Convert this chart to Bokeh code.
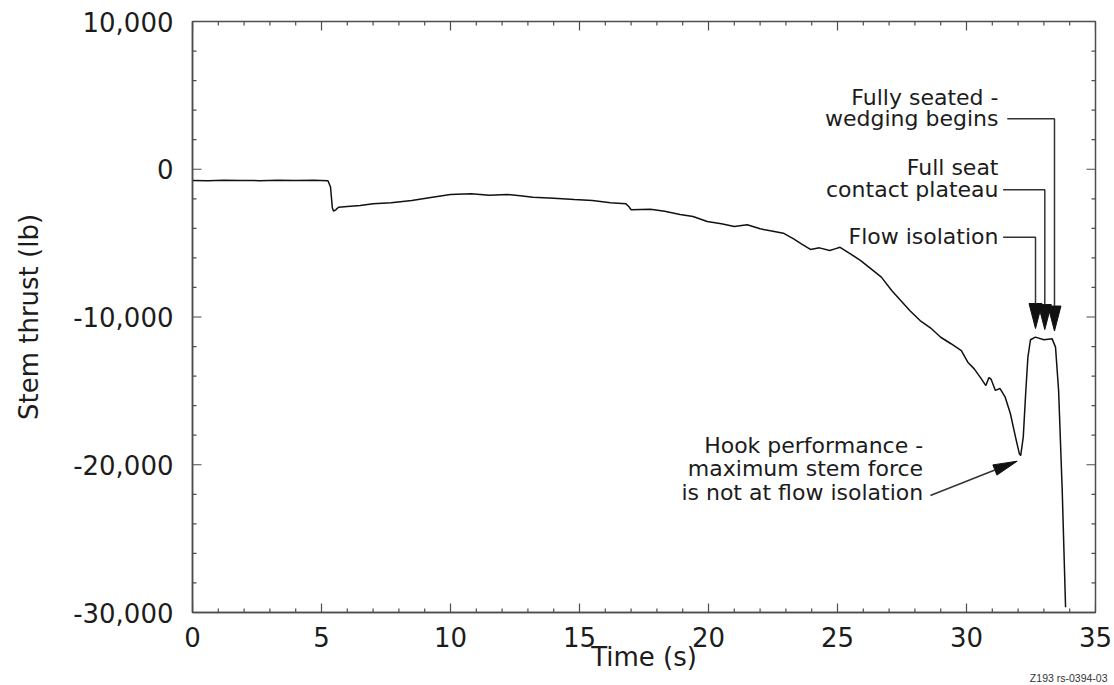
import math

from bokeh.plotting import figure
from bokeh.models import SingleIntervalTicker, NumeralTickFormatter, Label, Range1d, Title
from bokeh.embed import file_html
from bokeh.resources import INLINE

# Valve stem thrust trace during closure
time_s = [0.0, 0.6, 1.2, 1.9, 2.6, 3.3, 4.0, 4.7, 5.25, 5.35, 5.42, 5.47, 5.55, 5.66,
          6.0, 6.5, 7.0, 7.7, 8.5, 9.3, 10.0, 10.8, 11.5, 12.2, 12.7, 13.2, 14.0, 14.8,
          15.5, 16.2, 16.8, 16.9, 17.0, 17.75, 18.3, 18.9, 19.4, 19.95, 20.5, 21.0,
          21.5, 22.0, 22.5, 22.9, 23.3, 23.6, 23.95, 24.3, 24.7, 24.9, 25.1, 25.5,
          25.9, 26.3, 26.7, 27.1, 27.45, 27.8, 28.2, 28.6, 29.0, 29.4, 29.8, 30.05,
          30.3, 30.55, 30.75, 30.87, 30.95, 31.12, 31.3, 31.5, 31.7, 31.9, 32.05,
          32.1, 32.2, 32.3, 32.38, 32.48, 32.67, 33.0, 33.32, 33.45, 33.57, 33.71,
          33.84]
thrust_lb = [-760, -770, -750, -760, -770, -750, -760, -740, -780, -1200, -2600, -2840,
             -2750, -2570, -2520, -2450, -2340, -2270, -2115, -1890, -1710, -1665, -1760,
             -1710, -1800, -1890, -1960, -2050, -2115, -2270, -2340, -2500, -2745, -2700,
             -2840, -3060, -3200, -3540, -3690, -3875, -3760, -4030, -4190, -4325, -4710,
             -5050, -5430, -5320, -5500, -5390, -5280, -5720, -6180, -6740, -7300, -8210,
             -8880, -9560, -10240, -10730, -11370, -11810, -12270, -13060, -13510, -14120,
             -14640, -14100, -14200, -14970, -14840, -15430, -16530, -18130, -19260,
             -19380, -18130, -14970, -12720, -11540, -11360, -11540, -11480, -12040,
             -14970, -21740, -29640]

x_tick_step = 5
y_tick_step = 10000
minor_per_major = 5

FONT = "DejaVu Sans"
INK = "#1c1c1c"
AXIS = "#4d4d4d"

X0, X1 = 0, 35
Y0, Y1 = -30000, 10000
FW, FH = 903, 591

p = figure(frame_width=FW, frame_height=FH,
           x_range=Range1d(X0, X1), y_range=Range1d(Y0, Y1),
           output_backend="svg", toolbar_location=None,
           min_border_left=192, min_border_right=19,
           min_border_top=21, min_border_bottom=73,
           x_axis_label="Time (s)", y_axis_label="Stem thrust (lb)")
p.background_fill_color = "white"
p.border_fill_color = "white"
p.outline_line_color = AXIS
p.outline_line_width = 1.5
p.xgrid.visible = False
p.ygrid.visible = False

for ax, step in ((p.xaxis[0], x_tick_step), (p.yaxis[0], y_tick_step)):
    ax.ticker = SingleIntervalTicker(interval=step, num_minor_ticks=minor_per_major)
    ax.major_tick_in = 0
    ax.major_tick_out = 0
    ax.minor_tick_in = 0
    ax.minor_tick_out = 0
    ax.axis_line_color = AXIS
    ax.axis_line_width = 1.5
    ax.major_label_text_font = FONT
    ax.major_label_text_font_size = "26px"
    ax.major_label_text_color = INK
    ax.axis_label_text_font = FONT
    ax.axis_label_text_font_size = "26px"
    ax.axis_label_text_font_style = "normal"
    ax.axis_label_text_color = INK

p.yaxis[0].formatter = NumeralTickFormatter(format="0,0")
p.xaxis[0].major_label_standoff = 14
p.xaxis[0].axis_label_standoff = -8
p.yaxis[0].major_label_standoff = 19
p.yaxis[0].axis_label_standoff = 26

# pixel <-> data scale
SX = FW / (X1 - X0)
SY = FH / (Y1 - Y0)

# inward ticks on all four sides of the frame
MAJOR_LEN, MINOR_LEN = 9, 4
x_minor_step = x_tick_step / minor_per_major
y_minor_step = y_tick_step / minor_per_major
n_x = int(round((X1 - X0) / x_minor_step))
n_y = int(round((Y1 - Y0) / y_minor_step))
x_ticks = [X0 + i * x_minor_step for i in range(n_x + 1)]
y_ticks = [Y0 + i * y_minor_step for i in range(n_y + 1)]

sx0, sy0, sx1, sy1 = [], [], [], []
for i, t in enumerate(x_ticks):
    ln = (MAJOR_LEN if i % minor_per_major == 0 else MINOR_LEN) / SY
    sx0 += [t, t]; sx1 += [t, t]
    sy0 += [Y0, Y1]; sy1 += [Y0 + ln, Y1 - ln]
for i, v in enumerate(y_ticks):
    ln = (MAJOR_LEN if i % minor_per_major == 0 else MINOR_LEN) / SX
    sy0 += [v, v]; sy1 += [v, v]
    sx0 += [X0, X1]; sx1 += [X0 + ln, X1 - ln]
p.segment(sx0, sy0, sx1, sy1, line_color=AXIS, line_width=1.2)

p.line(time_s, thrust_lb, line_color="#111111", line_width=1.5)


def head(x_tip, y_tip, ux, uy, length, width):
    """Solid triangular arrowhead; (ux, uy) is the pixel-space unit direction."""
    tx, ty = x_tip * SX, y_tip * SY
    bx, by = tx - ux * length, ty - uy * length
    nx, ny = -uy, ux
    xs = [tx, bx + nx * width / 2, bx - nx * width / 2]
    ys = [ty, by + ny * width / 2, by - ny * width / 2]
    p.patch([v / SX for v in xs], [v / SY for v in ys],
            fill_color="#111111", line_color="#111111", line_width=1)
    return bx / SX, by / SY


def elbow_arrow(x_start, y_level, x_arrow, y_tip):
    hx, hy = head(x_arrow, y_tip, 0.0, -1.0, 25, 13)
    p.line([x_start, x_arrow, x_arrow], [y_level, y_level, hy],
           line_color="#333333", line_width=1.5)


def text_line(x, y, s):
    p.add_layout(Label(x=x, y=y, text=s, text_font=FONT, text_font_size="22px",
                       text_color=INK, text_align="right", text_baseline="middle"))


# seating annotations
text_line(31.24, 4876, "Fully seated -")
text_line(31.24, 3415, "wedging begins")
text_line(31.24, 139, "Full seat")
text_line(31.24, -1391, "contact plateau")
text_line(31.24, -4551, "Flow isolation")

elbow_arrow(31.58, 3415, 33.41, -10950)
elbow_arrow(31.42, -1391, 33.035, -10850)
elbow_arrow(31.42, -4600, 32.675, -10780)

# hook annotation
text_line(28.32, -18697, "Hook performance -")
text_line(28.32, -20273, "maximum stem force")
text_line(28.32, -21857, "is not at flow isolation")

tail_x, tail_y = 28.60, -22081
tip_x, tip_y = 31.965, -19759
dx, dy = (tip_x - tail_x) * SX, (tip_y - tail_y) * SY
L = math.hypot(dx, dy)
hx, hy = head(tip_x, tip_y, dx / L, dy / L, 24, 11)
p.line([tail_x, hx], [tail_y, hy], line_color="#333333", line_width=1.5)

p.add_layout(Title(text="Z193 rs-0394-03", align="right", text_font="Liberation Sans",
                   text_font_size="10.5px", text_font_style="normal", text_color="#333333",
                   standoff=-9, offset=-12), "below")

open("out.html", "w").write(file_html(p, INLINE))
